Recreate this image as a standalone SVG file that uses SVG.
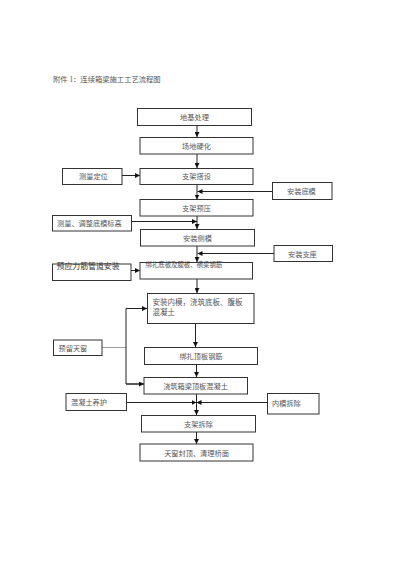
<svg xmlns="http://www.w3.org/2000/svg" width="400" height="566" viewBox="0 0 400 566">
<style>
.b{fill:#fff;stroke:#333;stroke-width:1}
.t{font-family:"Liberation Serif","Noto Sans CJK SC",serif;font-size:7.2px;fill:#555}
.c{text-anchor:middle}
.l{stroke:#222;stroke-width:1;fill:none}
.g{stroke:#888;stroke-width:0.8;fill:none}
</style>
<defs>
<marker id="a" viewBox="0 0 6 6" refX="6" refY="3" markerWidth="5" markerHeight="5" orient="auto" markerUnits="userSpaceOnUse">
<path d="M0,0L6,3L0,6z" fill="#111"/>
</marker>
</defs>
<rect width="400" height="566" fill="#fff"/>
<text x="53" y="82" class="t" style="font-size:7.3px">附件 1：连续箱梁施工工艺流程图</text>
<g id="connectors">
<line x1="197" y1="126" x2="197" y2="137" class="l" marker-end="url(#a)"/>
<line x1="197" y1="154" x2="197" y2="168" class="l" marker-end="url(#a)"/>
<line x1="122" y1="175.5" x2="140" y2="175.5" class="l" marker-end="url(#a)"/>
<line x1="197" y1="184" x2="197" y2="199.5" class="l" marker-end="url(#a)"/>
<line x1="272.5" y1="191.5" x2="197.5" y2="191.5" class="l" marker-end="url(#a)"/>
<line x1="197" y1="216" x2="197" y2="229" class="l" marker-end="url(#a)"/>
<line x1="131.5" y1="221.5" x2="197" y2="221.5" class="l" marker-end="url(#a)"/>
<line x1="197" y1="246" x2="197" y2="262" class="l" marker-end="url(#a)"/>
<line x1="274" y1="253.5" x2="197.5" y2="253.5" class="l" marker-end="url(#a)"/>
<line x1="131" y1="270.5" x2="140" y2="270.5" class="l" marker-end="url(#a)"/>
<line x1="197" y1="279" x2="197" y2="293" class="l" marker-end="url(#a)"/>
<line x1="102" y1="347.5" x2="126" y2="347.5" class="g"/>
<polyline points="147,308.5 126,308.5 126,384 143.5,384" class="l"/>
<line x1="126" y1="308.5" x2="147" y2="308.5" class="l" marker-end="url(#a)"/>
<line x1="126" y1="384" x2="144" y2="384" class="l" marker-end="url(#a)"/>
<line x1="195.5" y1="323.5" x2="195.5" y2="347" class="l" marker-end="url(#a)"/>
<line x1="196.5" y1="364.5" x2="196.5" y2="377" class="l" marker-end="url(#a)"/>
<line x1="196.5" y1="394" x2="196.5" y2="415" class="l" marker-end="url(#a)"/>
<line x1="126.5" y1="402.5" x2="196.5" y2="402.5" class="l" marker-end="url(#a)"/>
<line x1="267.5" y1="402.5" x2="196.5" y2="402.5" class="l" marker-end="url(#a)"/>
<line x1="196.5" y1="432" x2="196.5" y2="444" class="l" marker-end="url(#a)"/>
</g>
<g id="n1"><rect x="137.5" y="108.5" width="114" height="17" class="b"/><text x="194.5" y="120" class="t c">地基处理</text></g>
<g id="n2"><rect x="140" y="137.5" width="113" height="16.5" class="b"/><text x="196.5" y="148.5" class="t c">场地硬化</text></g>
<g id="n3"><rect x="62.5" y="168.5" width="59.5" height="16" class="b"/><text x="79" y="179" class="t">测量定位</text></g>
<g id="n4"><rect x="140" y="168.5" width="113" height="16" class="b"/><text x="196.5" y="179" class="t c">支架搭设</text></g>
<g id="n5"><rect x="272.5" y="182.5" width="59.5" height="17" class="b"/><text x="287" y="194" class="t">安装底模</text></g>
<g id="n6"><rect x="140" y="199.5" width="113" height="16.5" class="b"/><text x="196.5" y="210.5" class="t c">支架预压</text></g>
<g id="n7"><rect x="52.5" y="215.5" width="79" height="15.5" class="b"/><text x="57" y="226" class="t">测量、调整底模标高</text></g>
<g id="n8"><rect x="140.5" y="229.5" width="114" height="16.5" class="b"/><text x="197.5" y="240.5" class="t c">安装侧模</text></g>
<g id="n9"><rect x="274" y="245.5" width="58.5" height="16" class="b"/><text x="288" y="256.5" class="t">安装支座</text></g>
<g id="n10"><rect x="52.5" y="264" width="78.5" height="16.5" class="b"/><text x="56.5" y="268.5" class="t" style="font-size:7.9px;fill:#333">预应力筋管道安装</text></g>
<g id="n11"><rect x="140" y="262.5" width="112.5" height="16.5" class="b"/><text x="145.5" y="266.5" class="t" style="font-size:6.4px">绑扎底板及腹板、横梁钢筋</text></g>
<g id="n12"><rect x="147.5" y="293.5" width="106.5" height="30" class="b"/><text x="152.5" y="305" class="t" style="font-size:7.5px">安装内模，浇筑底板、腹板</text><text x="152.5" y="314.5" class="t" style="font-size:7.5px">混凝土</text></g>
<g id="n13"><rect x="53.5" y="340" width="48.5" height="15.5" class="b"/><text x="58.5" y="350.5" class="t">预留天窗</text></g>
<g id="n14"><rect x="144.5" y="347.5" width="113" height="17" class="b"/><text x="201" y="359" class="t c">绑扎顶板钢筋</text></g>
<g id="n15"><rect x="144" y="377.5" width="103.5" height="16.5" class="b"/><text x="195.5" y="388.5" class="t c">浇筑箱梁顶板混凝土</text></g>
<g id="n16"><rect x="66" y="393.5" width="60.5" height="17" class="b"/><text x="71" y="405" class="t">混凝土养护</text></g>
<g id="n17"><rect x="267.5" y="393.5" width="51.5" height="20.5" class="b"/><text x="272" y="405.5" class="t">内模拆除</text></g>
<g id="n18"><rect x="141.5" y="415.5" width="114" height="16.5" class="b"/><text x="198.5" y="426.5" class="t c">支架拆除</text></g>
<g id="n19"><rect x="140" y="444" width="113" height="17" class="b"/><text x="196.5" y="455.5" class="t c">天窗封顶、清理桥面</text></g>
</svg>
